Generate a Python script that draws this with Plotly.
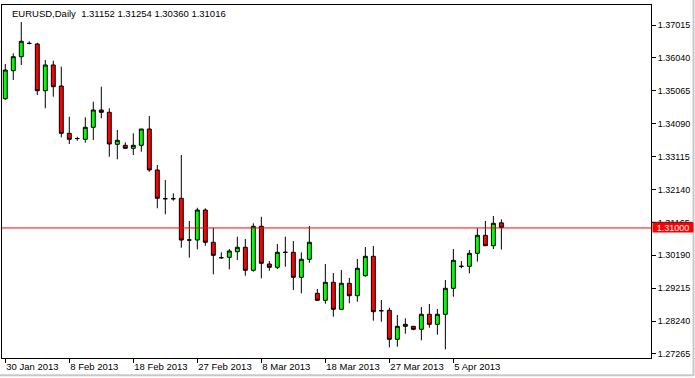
import plotly.graph_objects as go

dates = ["2013-01-30","2013-01-31","2013-02-01","2013-02-03","2013-02-04","2013-02-05","2013-02-06","2013-02-07",
         "2013-02-08","2013-02-10","2013-02-11","2013-02-12","2013-02-13","2013-02-14","2013-02-15","2013-02-17",
         "2013-02-18","2013-02-19","2013-02-20","2013-02-21","2013-02-22","2013-02-24","2013-02-25","2013-02-26",
         "2013-02-27","2013-02-28","2013-03-01","2013-03-03","2013-03-04","2013-03-05","2013-03-06","2013-03-07",
         "2013-03-08","2013-03-10","2013-03-11","2013-03-12","2013-03-13","2013-03-14","2013-03-15","2013-03-17",
         "2013-03-18","2013-03-19","2013-03-20","2013-03-21","2013-03-22","2013-03-24","2013-03-25","2013-03-26",
         "2013-03-27","2013-03-28","2013-03-29","2013-03-31","2013-04-01","2013-04-02","2013-04-03","2013-04-04",
         "2013-04-05","2013-04-07","2013-04-08","2013-04-09","2013-04-10","2013-04-11","2013-04-12"]

opens = [1.34831,1.35661,1.36076,1.36470,1.36452,1.35068,1.35830,1.35207,
         1.33805,1.33650,1.33627,1.33983,1.34496,1.34428,1.33479,1.33450,
         1.33361,1.33450,1.33933,1.32718,1.31867,1.31867,1.31879,1.30643,
         1.30643,1.31532,1.30575,1.30118,1.30130,1.30296,1.30427,1.29745,
         1.31049,1.29932,1.29834,1.30278,1.30278,1.29537,1.30071,1.29063,
         1.28856,1.29389,1.28589,1.29360,1.28992,1.29585,1.30160,1.28547,
         1.28559,1.27700,1.28085,1.28085,1.27996,1.28441,1.28144,1.28441,
         1.29211,1.29863,1.29863,1.30249,1.30782,1.30474,1.31152]
highs = [1.35859,1.36176,1.37104,1.36532,1.36490,1.35978,1.35957,1.35779,
         1.34297,1.33704,1.34279,1.34742,1.35186,1.34546,1.33903,1.33539,
         1.33805,1.33933,1.34318,1.32866,1.32421,1.32027,1.33162,1.31206,
         1.31600,1.31582,1.31007,1.30278,1.30376,1.30741,1.30673,1.31138,
         1.31333,1.30020,1.30524,1.30741,1.30613,1.30278,1.31058,1.29191,
         1.29932,1.29665,1.29754,1.29517,1.30080,1.30435,1.30465,1.28865,
         1.28636,1.28420,1.28322,1.28085,1.28657,1.28746,1.28598,1.29457,
         1.30376,1.30020,1.30346,1.30990,1.31206,1.31354,1.31254]
lows = [1.34792,1.35385,1.35830,1.36443,1.34940,1.34546,1.34890,1.33687,
        1.33488,1.33586,1.33527,1.33607,1.34250,1.33112,1.33035,1.33340,
        1.33162,1.33260,1.32667,1.31582,1.31405,1.31808,1.30415,1.30118,
        1.30367,1.30474,1.29626,1.30089,1.29774,1.30050,1.29585,1.29703,
        1.29508,1.29733,1.29783,1.29851,1.29161,1.29063,1.29970,1.28856,
        1.28755,1.28370,1.28589,1.28767,1.28814,1.29555,1.28251,1.28221,
        1.27463,1.27481,1.27866,1.27967,1.27670,1.28044,1.27836,1.27403,
        1.28962,1.29804,1.29656,1.30000,1.30474,1.30376,1.30360]
closes = [1.35681,1.36076,1.36532,1.36470,1.35068,1.35830,1.35186,1.33805,
          1.33627,1.33650,1.33983,1.34496,1.34428,1.33488,1.33598,1.33361,
          1.33450,1.33933,1.32718,1.31879,1.31867,1.31867,1.30643,1.30643,
          1.31532,1.30575,1.30189,1.30118,1.30317,1.30427,1.29745,1.31049,
          1.29952,1.29834,1.30278,1.30278,1.29537,1.30071,1.30575,1.28856,
          1.29389,1.28589,1.29360,1.28992,1.29804,1.30160,1.28518,1.28547,
          1.27700,1.28085,1.28144,1.27996,1.28441,1.28144,1.28441,1.29211,
          1.30041,1.29863,1.30249,1.30782,1.30474,1.31138,1.31016]

x_tick_dates = ["2013-01-30","2013-02-08","2013-02-18","2013-02-27","2013-03-08","2013-03-18","2013-03-27","2013-04-05"]
x_tick_labels = ["30 Jan 2013","8 Feb 2013","18 Feb 2013","27 Feb 2013","8 Mar 2013","18 Mar 2013","27 Mar 2013","5 Apr 2013"]
y_ticks = [1.27265,1.28240,1.29215,1.30190,1.31165,1.32140,1.33115,1.34090,1.35065,1.36040,1.37015]
y_tick_labels = ["1.27265","1.28240","1.29215","1.30190","1.31165","1.32140","1.33115","1.34090","1.35065","1.36040","1.37015"]

symbol = "EURUSD,Daily"
bid_price = 1.31000
bid_label = "1.31000"

FONT = "Liberation Sans"

fig = go.Figure(go.Candlestick(
    x=dates, open=opens, high=highs, low=lows, close=closes,
    increasing=dict(fillcolor="#00ff00", line=dict(color="black", width=1)),
    decreasing=dict(fillcolor="#ff0000", line=dict(color="black", width=1)),
    whiskerwidth=0, showlegend=False,
))

fig.update_layout(
    width=695, height=378,
    margin=dict(l=2, r=44, t=5, b=20),
    paper_bgcolor="white", plot_bgcolor="white",
    font=dict(family=FONT, size=9.5, color="black"),
    showlegend=False,
    xaxis=dict(
        type="category", range=[-0.41, 80.7],
        rangeslider=dict(visible=False),
        showline=True, mirror=True, linecolor="black", linewidth=1,
        ticks="outside", ticklen=4, tickcolor="black",
        tickvals=x_tick_dates, ticktext=x_tick_labels,
        ticklabelposition="outside right",
        showgrid=False, zeroline=False,
        tickfont=dict(family=FONT, size=9.5),
    ),
    yaxis=dict(
        side="right", range=[1.27146, 1.37608],
        showline=True, mirror=True, linecolor="black", linewidth=1,
        ticks="outside", ticklen=4, tickcolor="black",
        tickvals=y_ticks, ticktext=y_tick_labels,
        showgrid=False, zeroline=False,
        tickfont=dict(family=FONT, size=9),
    ),
    shapes=[
        dict(type="line", xref="paper", yref="y", x0=0, x1=1, y0=bid_price, y1=bid_price,
             line=dict(color="#ff0000", width=1)),
        dict(type="line", xref="paper", yref="y", x0=1, x1=1.0647, y0=1.31167, y1=1.31167,
             line=dict(color="black", width=1)),
        dict(type="line", xref="paper", yref="paper", x0=1.0655, x1=1.0655, y0=-0.05, y1=1.0142,
             line=dict(color="#c8c8c8", width=2)),
        dict(type="line", xref="paper", yref="paper", x0=-0.005, x1=1.0655, y0=-0.049, y1=-0.049,
             line=dict(color="#c8c8c8", width=2)),
    ],
    annotations=[
        dict(xref="paper", yref="paper", x=0.012, y=0.977, xanchor="left", yanchor="middle",
             text=f"{symbol}  {opens[-1]:.5f} {highs[-1]:.5f} {lows[-1]:.5f} {closes[-1]:.5f}",
             showarrow=False, font=dict(family=FONT, size=9.5, color="black")),
        dict(xref="paper", yref="y", x=1.001, y=bid_price, xanchor="left", yanchor="middle",
             text=bid_label, showarrow=False, bgcolor="#ff0000", width=40, height=9, borderpad=0,
             font=dict(family=FONT, size=9, color="white")),
    ],
)

fig.write_html("out.html", config={"displayModeBar": False},
               post_script="document.body.style.margin='0';document.body.style.overflow='hidden';")
